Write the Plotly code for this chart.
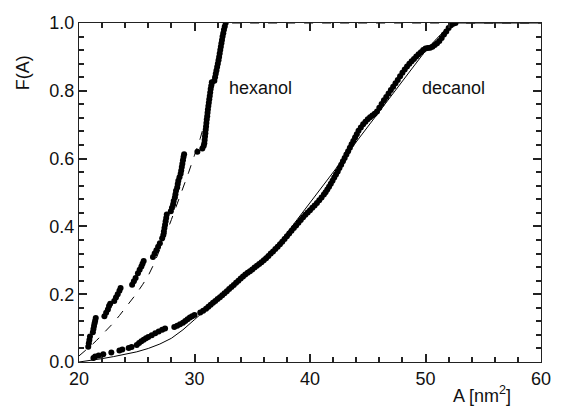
import plotly.graph_objects as go

# ---------------- data ----------------
hex_x = [20.8, 20.85, 20.9, 20.95, 21.2, 21.25, 21.3, 21.35, 21.4, 21.45,
         22.2, 22.35, 22.5, 22.6, 22.7,
         23.05, 23.2, 23.35, 23.5, 23.6,
         24.6, 24.75, 24.9,
         25.1, 25.25, 25.4, 25.5, 25.6,
         26.4, 26.55, 26.7, 26.85, 27.0,
         27.2, 27.3, 27.35, 27.4, 27.45, 27.5, 27.55, 27.6,
         27.95, 28.05, 28.15, 28.2, 28.3, 28.35, 28.4, 28.5, 28.55, 28.6, 28.7,
         28.8, 28.85, 28.9, 28.95, 29.0, 29.05, 29.1,
         30.25, 30.68, 30.8,
         30.85, 30.88, 30.91, 30.94, 30.97, 31.0, 31.03, 31.06, 31.1, 31.13,
         31.16, 31.2, 31.24, 31.28, 31.32, 31.36, 31.4, 31.45, 31.5,
         31.72, 31.78, 31.84, 31.9, 31.96, 32.02, 32.08, 32.13, 32.18, 32.23,
         32.28, 32.33, 32.38, 32.43, 32.49, 32.55, 32.62, 32.7]
hex_y = [0.045, 0.055, 0.065, 0.075, 0.088, 0.097, 0.106, 0.114, 0.122, 0.13,
         0.135, 0.145, 0.155, 0.165, 0.172,
         0.18, 0.19, 0.2, 0.21, 0.218,
         0.228, 0.238, 0.248,
         0.262, 0.272, 0.282, 0.29, 0.298,
         0.31, 0.32, 0.33, 0.34, 0.35,
         0.365, 0.375, 0.385, 0.395, 0.405, 0.415, 0.425, 0.435,
         0.445, 0.455, 0.465, 0.475, 0.485, 0.495, 0.505, 0.515, 0.525, 0.535, 0.545,
         0.555, 0.565, 0.575, 0.585, 0.595, 0.605, 0.613,
         0.62, 0.63, 0.638,
         0.645, 0.655, 0.665, 0.675, 0.685, 0.695, 0.705, 0.715, 0.725, 0.735,
         0.745, 0.755, 0.765, 0.775, 0.785, 0.795, 0.805, 0.815, 0.825,
         0.83, 0.84, 0.85, 0.86, 0.87, 0.88, 0.89, 0.90, 0.91, 0.92,
         0.93, 0.94, 0.95, 0.96, 0.97, 0.98, 0.99, 1.0]

dec_x = [21.25, 21.4, 21.7, 22.1, 22.8, 23.5, 23.75, 24.3, 24.55, 25.0,
         25.2, 25.4, 25.6, 25.8, 26.0, 26.3, 26.6, 26.9, 27.2, 27.45,
         28.25, 28.5, 28.75, 29.0, 29.2, 29.4, 29.6, 29.8, 30.0,
         30.5, 30.75, 31.0, 31.2, 31.4, 31.6, 31.8, 32.0, 32.2, 32.4,
         32.6, 32.8, 33.0, 33.2, 33.4, 33.6, 33.8, 34.0, 34.2, 34.4,
         34.6, 34.8, 35.0, 35.2, 35.4, 35.6, 35.8, 36.0, 36.2, 36.4,
         36.6, 36.8, 37.0, 37.2, 37.4, 37.6, 37.8, 38.0, 38.2, 38.4,
         38.6, 38.8, 39.0, 39.2, 39.4, 39.6, 39.8, 40.0, 40.2, 40.4,
         40.6, 40.8, 41.0, 41.2, 41.35, 41.5, 41.65, 41.8, 41.95, 42.1,
         42.25, 42.4, 42.55, 42.7, 42.85, 43.0, 43.15, 43.3, 43.45, 43.6,
         43.75, 43.9, 44.05, 44.2, 44.4, 44.6, 44.8, 45.0, 45.2, 45.4,
         45.6, 45.8, 46.0, 46.2, 46.4, 46.6, 46.8, 47.0, 47.2, 47.4,
         47.6, 47.8, 48.0, 48.2, 48.4, 48.6, 48.8, 49.0, 49.2, 49.4,
         49.6, 49.8, 50.0, 50.2, 50.4, 50.6, 50.8, 51.0, 51.2, 51.4,
         51.6, 51.8, 52.0, 52.2, 52.4, 52.6]
dec_y = [0.012, 0.016, 0.019, 0.023, 0.028, 0.034, 0.037, 0.041, 0.044, 0.05,
         0.056, 0.061, 0.066, 0.07, 0.074, 0.079, 0.085, 0.09, 0.095, 0.099,
         0.103, 0.107, 0.111, 0.116, 0.121, 0.126, 0.131, 0.135, 0.139,
         0.146, 0.151, 0.157, 0.163, 0.169, 0.175, 0.18, 0.186, 0.191, 0.197,
         0.203, 0.209, 0.215, 0.221, 0.227, 0.234, 0.24, 0.246, 0.252, 0.258,
         0.263, 0.268, 0.273, 0.279, 0.284, 0.289, 0.294, 0.3, 0.306, 0.313,
         0.32, 0.326, 0.333, 0.34, 0.347, 0.355, 0.363, 0.371, 0.379, 0.387,
         0.395, 0.403, 0.411, 0.419, 0.427, 0.434, 0.441, 0.448, 0.455, 0.462,
         0.469, 0.477, 0.485, 0.494, 0.501, 0.509, 0.517, 0.526, 0.535, 0.544,
         0.553, 0.562, 0.572, 0.582, 0.592, 0.602, 0.612, 0.622, 0.632, 0.642,
         0.652, 0.662, 0.672, 0.682, 0.692, 0.701, 0.709, 0.716, 0.722, 0.727,
         0.732, 0.739, 0.75, 0.761, 0.772, 0.782, 0.792, 0.802, 0.812, 0.822,
         0.832, 0.843, 0.853, 0.863, 0.872, 0.88, 0.887, 0.894, 0.901, 0.908,
         0.914, 0.92, 0.925, 0.926, 0.927, 0.93, 0.935, 0.94, 0.947, 0.956,
         0.966, 0.975, 0.985, 0.993, 0.998, 1.0]

hexfit_x = [20, 20.5, 21, 21.5, 22, 22.5, 23, 23.5, 24, 24.5, 25, 25.5, 26, 26.5,
            27, 27.5, 28, 28.5, 29, 29.5, 30, 30.5, 31, 31.5, 32, 32.4, 32.7, 60]
hexfit_y = [0.018, 0.032, 0.047, 0.063, 0.08, 0.097, 0.116, 0.137, 0.158, 0.18,
            0.203, 0.228, 0.255, 0.29, 0.33, 0.375, 0.42, 0.465, 0.51, 0.56,
            0.61, 0.66, 0.72, 0.79, 0.87, 0.94, 1.0, 1.0]

decfit_x = [20, 21, 22, 23, 24, 25, 26, 27, 28, 29, 30, 31, 32, 33, 34, 35, 36,
            37, 38, 39, 40, 41, 42, 43, 44, 45, 46, 47, 48, 49, 50, 51, 52, 52.3, 60]
decfit_y = [0.0, 0.004, 0.01, 0.016, 0.022, 0.03, 0.04, 0.053, 0.07, 0.095, 0.125,
            0.155, 0.185, 0.215, 0.245, 0.275, 0.307, 0.34, 0.38, 0.425, 0.47,
            0.515, 0.56, 0.605, 0.65, 0.695, 0.74, 0.785, 0.83, 0.875, 0.918,
            0.955, 0.99, 1.0, 1.0]

x_ticks = [20, 30, 40, 50, 60]
y_ticks = [0.0, 0.2, 0.4, 0.6, 0.8, 1.0]

# ---------------- figure ----------------
FONT = "Arial"
AX = "#222222"
TXT = "#111111"

fig = go.Figure()
fig.add_trace(go.Scatter(x=decfit_x, y=decfit_y, mode="lines",
                         line=dict(color="black", width=1), showlegend=False))
fig.add_trace(go.Scatter(x=hexfit_x, y=hexfit_y, mode="lines",
                         line=dict(color="black", width=1, dash="dash"),
                         showlegend=False))
fig.add_trace(go.Scatter(x=hex_x, y=hex_y, mode="markers",
                         marker=dict(color="black", size=6), showlegend=False))
fig.add_trace(go.Scatter(x=dec_x, y=dec_y, mode="markers",
                         marker=dict(color="black", size=6), showlegend=False))

fig.add_annotation(x=35.7, y=0.808, text="hexanol", showarrow=False,
                   xanchor="center", yanchor="middle",
                   font=dict(family=FONT, size=18, color=TXT))
fig.add_annotation(x=52.4, y=0.808, text="decanol", showarrow=False,
                   xanchor="center", yanchor="middle",
                   font=dict(family=FONT, size=18, color=TXT))
fig.add_annotation(xref="paper", yref="paper", x=-0.121, y=0.852, text="F(A)",
                   textangle=-90, showarrow=False, xanchor="center", yanchor="middle",
                   font=dict(family=FONT, size=18, color=TXT))
fig.add_annotation(xref="paper", yref="paper", x=0.939, y=-0.137,
                   text="A [nm<sup>2</sup>]", showarrow=False,
                   xanchor="right", yanchor="bottom",
                   font=dict(family=FONT, size=18, color=TXT))

fig.update_xaxes(range=[x_ticks[0], x_ticks[-1]], dtick=x_ticks[1] - x_ticks[0],
                 ticks="inside", ticklen=8, tickwidth=2, tickcolor=AX,
                 showline=True, linecolor=AX, linewidth=1, mirror="ticks",
                 showgrid=False, zeroline=False,
                 minor=dict(ticks="inside", dtick=2, ticklen=5, tickwidth=2,
                            tickcolor=AX),
                 tickfont=dict(family=FONT, size=18, color=TXT))
fig.update_yaxes(range=[y_ticks[0], y_ticks[-1]], dtick=y_ticks[1] - y_ticks[0],
                 tickformat=".1f",
                 ticks="inside", ticklen=8, tickwidth=2, tickcolor=AX,
                 showline=True, linecolor=AX, linewidth=1, mirror="ticks",
                 showgrid=False, zeroline=False,
                 minor=dict(ticks="inside", dtick=0.04, ticklen=5, tickwidth=2,
                            tickcolor=AX),
                 tickfont=dict(family=FONT, size=18, color=TXT))

fig.update_layout(width=562, height=409,
                  margin=dict(l=79, r=11, t=23, b=47),
                  plot_bgcolor="rgba(0,0,0,0)")

fig.write_html("out.html")
